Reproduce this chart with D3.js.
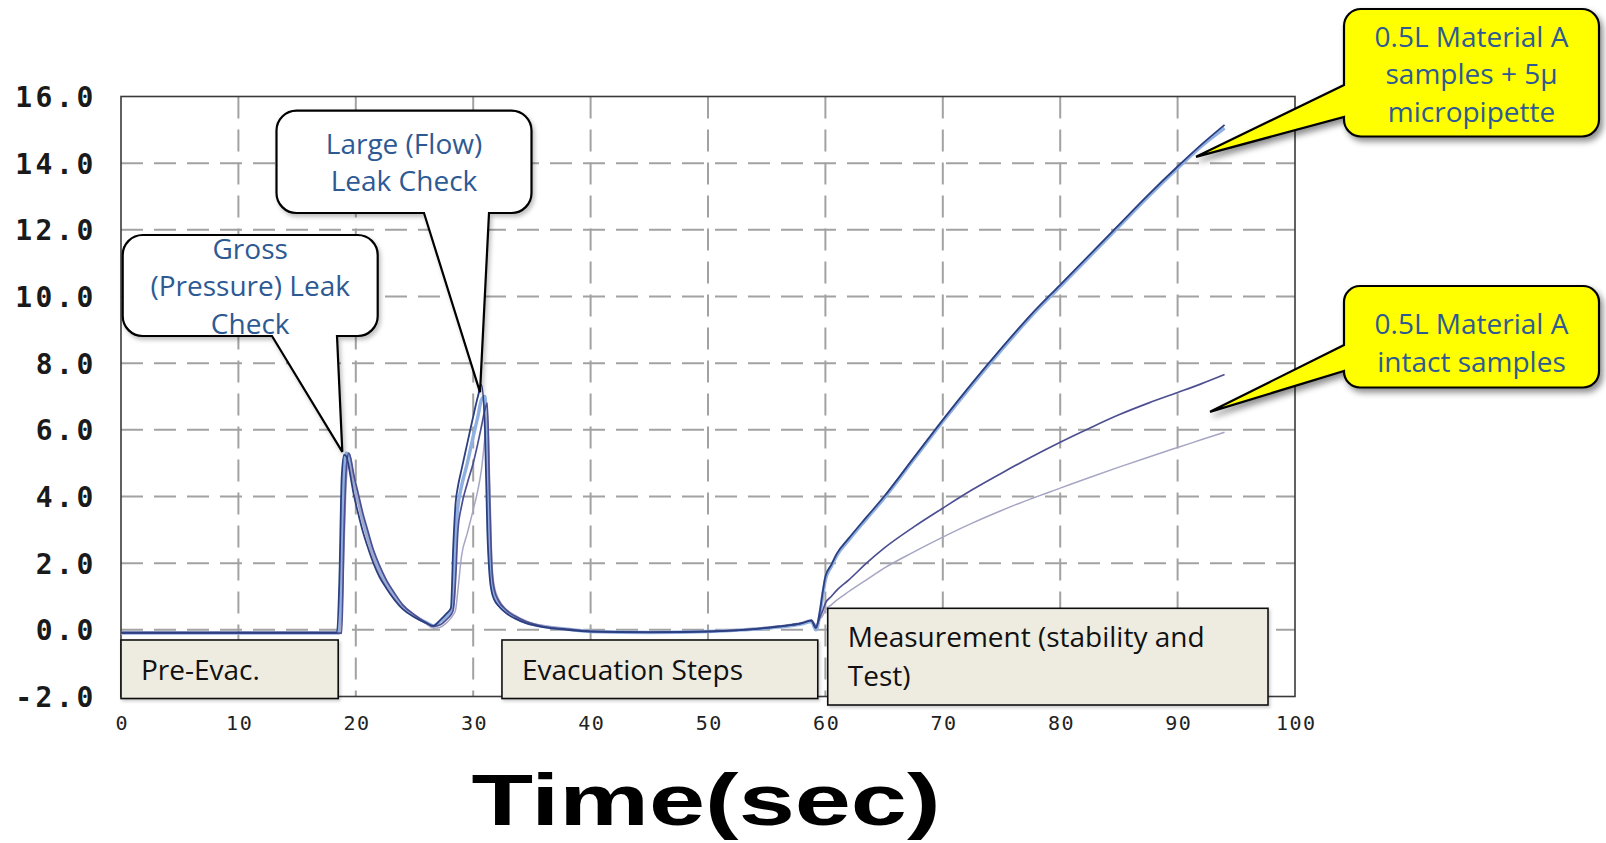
<!DOCTYPE html>
<html>
<head>
<meta charset="utf-8">
<script src="https://cdn.jsdelivr.net/npm/d3@7"></script>
<style>
  html, body { margin: 0; padding: 0; background: #fff; }
  svg { display: block; }
</style>
</head>
<body>
<svg id="chart" width="1606" height="843"></svg>
<script>
// ---------------- DATA ----------------
const timeSec = [0, 5, 10, 15, 18.4, 18.6, 18.8, 19.0, 19.2, 19.4,
  19.6, 19.8, 20.2, 20.6, 21, 21.5, 22, 22.6, 23.3, 24,
  25, 26, 26.6, 27.2, 27.7, 28.1, 28.3, 28.5, 28.7, 29,
  29.5, 30, 30.4, 30.7, 31, 31.2, 31.4, 31.6, 31.8, 32.2,
  32.8, 33.5, 34.5, 36, 38, 40, 45, 50, 53, 56,
  58, 58.8, 59.2, 59.5, 59.8, 60, 60.5, 61, 62, 63.5,
  65, 67.5, 70, 72.5, 75, 77.5, 80, 82.5, 85, 87.5,
  90, 92, 94];

// micropipette samples (two runs, overlapping)
const seriesA = [-0.08,-0.08,-0.08,-0.08,-0.08, 1.5,4.6,5.25,5.2,4.9,
  4.5,4.1,3.5,2.95,2.5, 2.0,1.6,1.25,0.9,0.62,
  0.38,0.2,0.12,0.3,0.48, 0.65,2.5,3.8,4.3,4.8,
  5.6,6.4,7.0,7.35,6.0, 3.0,1.6,1.1,0.9,0.7,
  0.5,0.35,0.2,0.08,0.0, -0.05,-0.07,-0.05,0.0,0.1,
  0.2,0.28,0.05,0.5,1.2, 1.6,1.95,2.3,2.75,3.38,
  4.0,5.15,6.3,7.4,8.45, 9.45,10.35,11.25,12.15,13.05,
  13.9,14.55,15.15];
const seriesB = [-0.1,-0.1,-0.1,-0.1,-0.1, -0.1,2.5,4.8,5.3,5.25,
  4.9,4.5,3.9,3.3,2.8, 2.25,1.8,1.4,1.0,0.7,
  0.42,0.22,0.12,0.25,0.4, 0.55,0.8,2.8,3.7,4.3,
  5.0,5.8,6.4,6.9,7.0, 5.0,2.2,1.3,1.0,0.75,
  0.55,0.4,0.22,0.1,0.02, -0.05,-0.08,-0.05,0.0,0.08,
  0.18,0.25,0.0,0.4,1.1, 1.5,1.9,2.25,2.7,3.33,
  3.95,5.1,6.25,7.35,8.4, 9.4,10.3,11.2,12.1,13.0,
  13.85,14.5,15.05];
// intact samples
const seriesC = [-0.1,-0.1,-0.1,-0.1,-0.1, -0.1,-0.1,3.0,4.9,5.3,
  5.1,4.7,4.1,3.5,3.0, 2.4,1.95,1.5,1.1,0.75,
  0.45,0.22,0.1,0.15,0.3, 0.45,0.6,1.5,3.0,3.7,
  4.4,5.0,5.6,6.1,6.6, 6.8,4.0,1.8,1.2,0.85,
  0.6,0.42,0.25,0.1,0.02, -0.05,-0.08,-0.05,0.0,0.1,
  0.2,0.28,0.1,0.35,0.6, 0.8,1.0,1.2,1.5,2.0,
  2.45,3.08,3.65,4.2,4.7, 5.18,5.63,6.05,6.45,6.8,
  7.12,7.38,7.66];
const seriesD = [-0.1,-0.1,-0.1,-0.1,-0.1, -0.1,0.5,2.5,4.5,5.0,
  4.8,4.4,3.8,3.2,2.7, 2.15,1.7,1.3,0.95,0.65,
  0.38,0.18,0.05,0.08,0.2, 0.35,0.45,0.6,1.2,2.2,
  2.9,3.6,4.2,4.8,5.8, 6.6,4.5,2.0,1.3,0.9,
  0.62,0.45,0.27,0.12,0.03, -0.04,-0.07,-0.04,0.02,0.12,
  0.22,0.3,0.15,0.3,0.45, 0.6,0.75,0.9,1.15,1.5,
  1.85,2.33,2.78,3.2,3.58, 3.93,4.25,4.57,4.88,5.18,
  5.47,5.7,5.93];

const xTickValues = [0, 10, 20, 30, 40, 50, 60, 70, 80, 90, 100];
const xTickLabels = ["0","10","20","30","40","50","60","70","80","90","100"];
const yTickValues = [-2, 0, 2, 4, 6, 8, 10, 12, 14, 16];
const yTickLabels = ["-2.0","0.0","2.0","4.0","6.0","8.0","10.0","12.0","14.0","16.0"];
const xAxisTitle = "Time(sec)";

const phaseNames = ["Pre-Evac.", "Evacuation Steps", "Measurement (stability and|Test)"];
const phaseStart = [0, 32.45, 60.2];
const phaseEnd = [18.5, 59.35, 97.7];

const calloutTexts = ["Gross|(Pressure) Leak|Check", "Large (Flow)|Leak Check",
  "0.5L Material A|samples + 5µ|micropipette", "0.5L Material A|intact samples"];
const calloutTipT = [18.85, 30.58, 91.57, 92.76];
const calloutTipV = [5.34, 7.13, 14.19, 6.54];

// ---------------- LAYOUT ----------------
const svg = d3.select("#chart");
const W = 1606, H = 843;
const L = 121, R = 1295, T = 96.5, B = 696.5;

const x = d3.scaleLinear().domain([0, 100]).range([L, R]);
const y = d3.scaleLinear().domain([-2, 16]).range([B, T]);

svg.append("rect").attr("width", W).attr("height", H).attr("fill", "#fff");

const defs = svg.append("defs");
function shadow(id, op, dx, dy, sd) {
  const f = defs.append("filter").attr("id", id)
    .attr("x", "-10%").attr("y", "-10%").attr("width", "130%").attr("height", "140%");
  f.append("feDropShadow").attr("dx", dx).attr("dy", dy).attr("stdDeviation", sd)
    .attr("flood-color", "#000").attr("flood-opacity", op);
}
shadow("shY", 0.45, 3, 4, 3);
shadow("shW", 0.25, 2, 3, 2);
shadow("shP", 0.2, 1.5, 2, 1.5);

// gridlines
const grid = svg.append("g");
grid.selectAll("line.v").data(xTickValues.slice(1, -1)).join("line")
  .attr("x1", d => x(d)).attr("x2", d => x(d)).attr("y1", T).attr("y2", B)
  .attr("stroke", "#a2a2a2").attr("stroke-width", 2).attr("stroke-dasharray", "22,11");
grid.selectAll("line.h").data(yTickValues.slice(1, -1)).join("line")
  .attr("x1", L).attr("x2", R).attr("y1", d => y(d)).attr("y2", d => y(d))
  .attr("stroke", "#a2a2a2").attr("stroke-width", 2).attr("stroke-dasharray", "22,11");

// border
svg.append("rect").attr("x", L).attr("y", T).attr("width", R - L).attr("height", B - T)
  .attr("fill", "none").attr("stroke", "#3a3a3a").attr("stroke-width", 1.6);

// axes
const yAxis = d3.axisLeft(y).tickValues(yTickValues)
  .tickFormat((d, i) => yTickLabels[i]).tickSize(0).tickPadding(24);
const gy = svg.append("g").attr("transform", `translate(${L},0)`).call(yAxis);
gy.select(".domain").remove();
gy.selectAll("text")
  .attr("font-family", "'DejaVu Sans Mono', monospace").attr("font-weight", "bold")
  .attr("font-size", 28).attr("fill", "#1a1a1a").attr("letter-spacing", "3.6px")
  .attr("dy", "0.36em");

const xAxis = d3.axisBottom(x).tickValues(xTickValues)
  .tickFormat((d, i) => xTickLabels[i]).tickSize(0).tickPadding(19);
const gx = svg.append("g").attr("transform", `translate(0,${B})`).call(xAxis);
gx.select(".domain").remove();
gx.selectAll("text")
  .attr("font-family", "'DejaVu Sans Mono', monospace")
  .attr("font-size", 20).attr("fill", "#222").attr("letter-spacing", "1.5px").attr("dx", "0.75");

svg.append("text").attr("x", 706).attr("y", 825).attr("text-anchor", "middle")
  .attr("font-family", "'Liberation Sans', Arial, sans-serif").attr("font-weight", "bold")
  .attr("font-size", 73).attr("fill", "#000")
  .attr("textLength", 469).attr("lengthAdjust", "spacingAndGlyphs")
  .text(xAxisTitle);

// series lines
const series = [
  { vals: seriesB, color: "#8fb0e0", width: 3.4 },
  { vals: seriesD, color: "#a6a6c4", width: 1.5 },
  { vals: seriesC, color: "#4d4f92", width: 1.7 },
  { vals: seriesA, color: "#2c3f80", width: 1.8 }
];
const line = d3.line().x(d => x(d[0])).y(d => y(d[1])).curve(d3.curveMonotoneX);
svg.append("g").selectAll("path").data(series).join("path")
  .attr("d", s => line(timeSec.map((t, i) => [t, s.vals[i]])))
  .attr("fill", "none").attr("stroke", s => s.color).attr("stroke-width", s => s.width)
  .attr("stroke-linejoin", "round");

// phase boxes
const phaseY = [[640, 698.5], [640, 698.5], [608.3, 705]];
const pg = svg.append("g");
phaseNames.forEach((name, i) => {
  const x0 = x(phaseStart[i]), x1 = x(phaseEnd[i]);
  const [y0, y1] = phaseY[i];
  pg.append("rect").attr("x", x0).attr("y", y0).attr("width", x1 - x0).attr("height", y1 - y0)
    .attr("fill", "#EEECE1").attr("stroke", "#111").attr("stroke-width", 1.6)
    .attr("filter", "url(#shP)");
  const lines = name.split("|");
  const t = pg.append("text").attr("font-family", "'Open Sans', sans-serif")
    .attr("font-size", 28).attr("fill", "#111");
  lines.forEach((ln, k) => {
    t.append("tspan").attr("x", x0 + 20)
      .attr("y", lines.length === 1 ? 680 : 647 + k * 38.5).text(ln);
  });
});

// callouts
function calloutPath(b, r, tail) {
  const { x0, y0, x1, y1 } = b;
  const p = d3.path();
  p.moveTo(x0 + r, y0);
  p.lineTo(x1 - r, y0);
  p.arcTo(x1, y0, x1, y0 + r, r);
  p.lineTo(x1, y1 - r);
  p.arcTo(x1, y1, x1 - r, y1, r);
  if (tail.side === "bottom") {
    p.lineTo(tail.b, y1);
    p.lineTo(tail.tx, tail.ty);
    p.lineTo(tail.a, y1);
  }
  p.lineTo(x0 + r, y1);
  p.arcTo(x0, y1, x0, y1 - r, r);
  if (tail.side === "left") {
    p.lineTo(x0, tail.b);
    p.lineTo(tail.tx, tail.ty);
    p.lineTo(x0, tail.a);
  }
  p.lineTo(x0, y0 + r);
  p.arcTo(x0, y0, x0 + r, y0, r);
  p.closePath();
  return p.toString();
}

const callBoxes = [
  { x0: 122.7, y0: 235, x1: 377.7, y1: 336, r: 20, side: "bottom", a: 272, b: 337, fill: "#fff", sh: "shW", base: 258.5 },
  { x0: 276.5, y0: 110.6, x1: 531.5, y1: 213, r: 20, side: "bottom", a: 424, b: 489, fill: "#fff", sh: "shW", base: 153.5 },
  { x0: 1344, y0: 9, x1: 1599, y1: 136.5, r: 17, side: "left", a: 85, b: 117, fill: "#FFFF00", sh: "shY", base: 46.7 },
  { x0: 1344, y0: 286, x1: 1599, y1: 387.5, r: 16, side: "left", a: 345, b: 371, fill: "#FFFF00", sh: "shY", base: 334.3 }
];
const cg = svg.append("g");
callBoxes.forEach((c, i) => {
  const tail = { side: c.side, a: c.a, b: c.b, tx: x(calloutTipT[i]), ty: y(calloutTipV[i]) };
  cg.append("path").attr("d", calloutPath(c, c.r, tail))
    .attr("fill", c.fill).attr("stroke", "#000").attr("stroke-width", 2.2)
    .attr("stroke-linejoin", "miter").attr("filter", `url(#${c.sh})`);
  const lines = calloutTexts[i].split("|");
  const t = cg.append("text").attr("font-family", "'Open Sans', sans-serif")
    .attr("font-size", 28).attr("fill", "#2E5A94").attr("text-anchor", "middle");
  lines.forEach((ln, k) => {
    t.append("tspan").attr("x", (c.x0 + c.x1) / 2).attr("y", c.base + k * 37.5).text(ln);
  });
});
</script>
</body>
</html>
